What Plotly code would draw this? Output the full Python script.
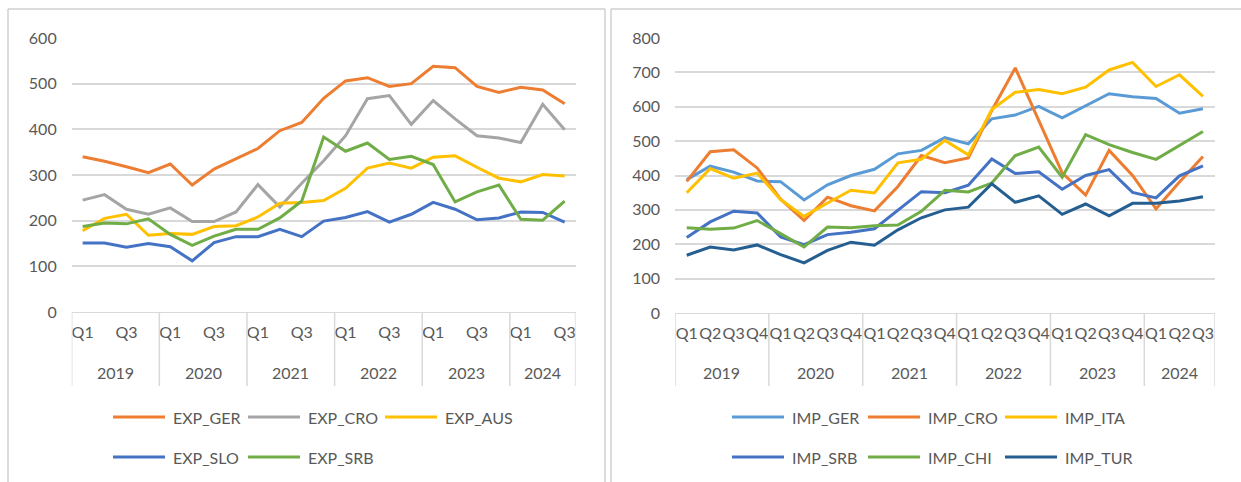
import plotly.graph_objects as go

# ---------------- data ----------------
years = ["2019"] * 4 + ["2020"] * 4 + ["2021"] * 4 + ["2022"] * 4 + ["2023"] * 4 + ["2024"] * 3
quarters = ["Q1", "Q2", "Q3", "Q4"] * 5 + ["Q1", "Q2", "Q3"]

exp_names = ["EXP_GER", "EXP_CRO", "EXP_AUS", "EXP_SLO", "EXP_SRB"]
exp_ger = [340, 330, 318, 305, 324, 278, 313, 335, 358, 397, 415, 468, 506, 513, 494, 500, 538, 535, 494, 481, 492, 486, 456]
exp_cro = [245, 257, 225, 214, 228, 198, 198, 219, 279, 230, 282, 331, 386, 467, 474, 411, 463, 423, 386, 381, 371, 455, 399]
exp_aus = [178, 205, 214, 168, 172, 170, 187, 189, 208, 238, 240, 244, 271, 315, 326, 315, 339, 342, 317, 293, 285, 301, 298]
exp_slo = [151, 151, 142, 150, 143, 112, 152, 165, 165, 181, 165, 199, 207, 220, 197, 214, 240, 225, 202, 206, 219, 218, 197]
exp_srb = [187, 195, 193, 204, 170, 146, 166, 181, 181, 206, 243, 383, 352, 370, 334, 341, 323, 241, 263, 278, 203, 201, 243]

imp_names = ["IMP_GER", "IMP_CRO", "IMP_ITA", "IMP_SRB", "IMP_CHI", "IMP_TUR"]
imp_ger = [388, 427, 410, 384, 382, 329, 373, 400, 418, 463, 473, 510, 492, 565, 576, 601, 568, 602, 638, 629, 624, 581, 594]
imp_cro = [383, 469, 475, 422, 331, 269, 337, 312, 297, 368, 458, 437, 451, 589, 713, 560, 408, 343, 473, 400, 303, 381, 455]
imp_ita = [350, 420, 392, 407, 330, 281, 320, 357, 349, 437, 447, 502, 460, 592, 642, 650, 638, 657, 707, 729, 659, 693, 630]
imp_srb = [220, 265, 296, 291, 221, 199, 228, 235, 245, 298, 353, 350, 372, 448, 406, 411, 360, 400, 417, 351, 335, 399, 428]
imp_chi = [248, 244, 247, 269, 231, 192, 250, 248, 254, 256, 296, 357, 352, 378, 458, 483, 395, 519, 490, 467, 447, 487, 528]
imp_tur = [168, 192, 183, 198, 170, 146, 182, 206, 197, 242, 277, 300, 308, 376, 322, 341, 287, 317, 283, 319, 319, 326, 338]

exp_colors = ["#ED7D31", "#A5A5A5", "#FFC000", "#4472C4", "#70AD47"]
imp_colors = ["#5B9BD5", "#ED7D31", "#FFC000", "#4472C4", "#70AD47", "#255E91"]

# ---------------- geometry helpers ----------------
W, H = 1241, 482
FONT = "Lato"
TXT = "#595959"
GRID = "#D9D9D9"


def px(x):
    return x / W


def py(y):
    return (H - y) / H


idx = list(range(len(quarters)))

fig = go.Figure()

exp_series = [exp_ger, exp_cro, exp_aus, exp_slo, exp_srb]
imp_series = [imp_ger, imp_cro, imp_ita, imp_srb, imp_chi, imp_tur]

for name, vals, col in zip(exp_names, exp_series, exp_colors):
    fig.add_trace(go.Scatter(x=idx, y=vals, name=name, mode="lines",
                             line=dict(color=col, width=3), xaxis="x", yaxis="y",
                             showlegend=False))
for name, vals, col in zip(imp_names, imp_series, imp_colors):
    fig.add_trace(go.Scatter(x=idx, y=vals, name=name, mode="lines",
                             line=dict(color=col, width=3), xaxis="x2", yaxis="y2",
                             showlegend=False))

# ---------------- axes ----------------
left_ticks = [i for i, q in enumerate(quarters) if q in ("Q1", "Q3")]
tickfont = dict(family=FONT, size=16, color=TXT)

fig.update_layout(
    width=W, height=H, autosize=False,
    margin=dict(l=0, r=0, t=0, b=0, pad=0, autoexpand=False),
    paper_bgcolor="white", plot_bgcolor="white",
    font=dict(family=FONT, size=16, color=TXT),
    showlegend=False,
    xaxis=dict(domain=[px(71.7), px(575.6)], range=[-0.5, len(idx) - 0.5],
               tickmode="array", tickvals=left_ticks,
               ticktext=[quarters[i] for i in left_ticks],
               showgrid=False, zeroline=False, showline=True, linecolor=GRID,
               linewidth=1, ticks="", tickangle=0, tickfont=tickfont,
               ticklabelstandoff=6, anchor="y", fixedrange=True, automargin=False),
    yaxis=dict(domain=[py(312), py(38)], range=[0, 600], dtick=100,
               showgrid=True, gridcolor=GRID, gridwidth=1.5, zeroline=False,
               showline=False, ticks="", tickfont=tickfont,
               ticklabelstandoff=14, anchor="x", fixedrange=True, automargin=False),
    xaxis2=dict(domain=[px(675), px(1214.7)], range=[-0.5, len(idx) - 0.5],
                tickmode="array", tickvals=idx, ticktext=quarters,
                showgrid=False, zeroline=False, showline=True, linecolor=GRID,
                linewidth=1, ticks="", tickangle=0, tickfont=tickfont,
                ticklabelstandoff=6, anchor="y2", fixedrange=True, automargin=False),
    yaxis2=dict(domain=[py(313), py(38)], range=[0, 800], dtick=100,
                showgrid=True, gridcolor=GRID, gridwidth=1.5, zeroline=False,
                showline=False, ticks="", tickfont=tickfont,
                ticklabelstandoff=14, anchor="x2", fixedrange=True, automargin=False),
)

shapes = []
annotations = []

# year group dividers and year labels
bounds = [-0.5] + [i - 0.5 for i in range(1, len(years)) if years[i] != years[i - 1]] + [len(years) - 0.5]
groups = []
start = 0
for i in range(1, len(years) + 1):
    if i == len(years) or years[i] != years[i - 1]:
        groups.append((years[start], (start + i - 1) / 2))
        start = i

for xr, ybot in (("x", 312), ("x2", 313)):
    for b in bounds:
        shapes.append(dict(type="line", xref=xr, yref="paper", x0=b, x1=b,
                           y0=py(ybot), y1=py(386), line=dict(color=GRID, width=1.5)))
    for yr, c in groups:
        annotations.append(dict(text=yr, xref=xr, yref="paper", x=c, y=py(372),
                                showarrow=False, xanchor="center", yanchor="middle",
                                font=dict(family=FONT, size=16, color=TXT)))


# manual legends
def add_legend(names, colors, cols_x, rows_y):
    for k, (n, c) in enumerate(zip(names, colors)):
        x0 = cols_x[k % 3]
        y0 = rows_y[k // 3]
        shapes.append(dict(type="line", xref="paper", yref="paper",
                           x0=px(x0), x1=px(x0 + 52), y0=py(y0), y1=py(y0),
                           line=dict(color=c, width=3)))
        annotations.append(dict(text=n, xref="paper", yref="paper",
                                x=px(x0 + 58), y=py(y0), showarrow=False,
                                xanchor="left", yanchor="middle",
                                font=dict(family=FONT, size=16, color=TXT)))


add_legend(exp_names, exp_colors, [113, 248, 385], [417, 457])
add_legend(imp_names, imp_colors, [732, 868, 1005], [417, 457])

# panel borders
BORDER = "#D0D0D0"
for (x0, y0, x1, y1) in [(8, 9, 605, 9), (8, 9, 8, 482), (605, 9, 605, 482),
                         (611, 9, 1241, 9), (611, 9, 611, 482)]:
    shapes.append(dict(type="line", xref="paper", yref="paper",
                       x0=px(x0), x1=px(x1), y0=py(y0), y1=py(y1),
                       line=dict(color=BORDER, width=1.5)))

fig.update_layout(shapes=shapes, annotations=annotations)

fig.write_html("out.html",
               config={"displayModeBar": False},
               post_script="document.body.style.margin='0';"
                           "document.documentElement.style.overflow='hidden';")
